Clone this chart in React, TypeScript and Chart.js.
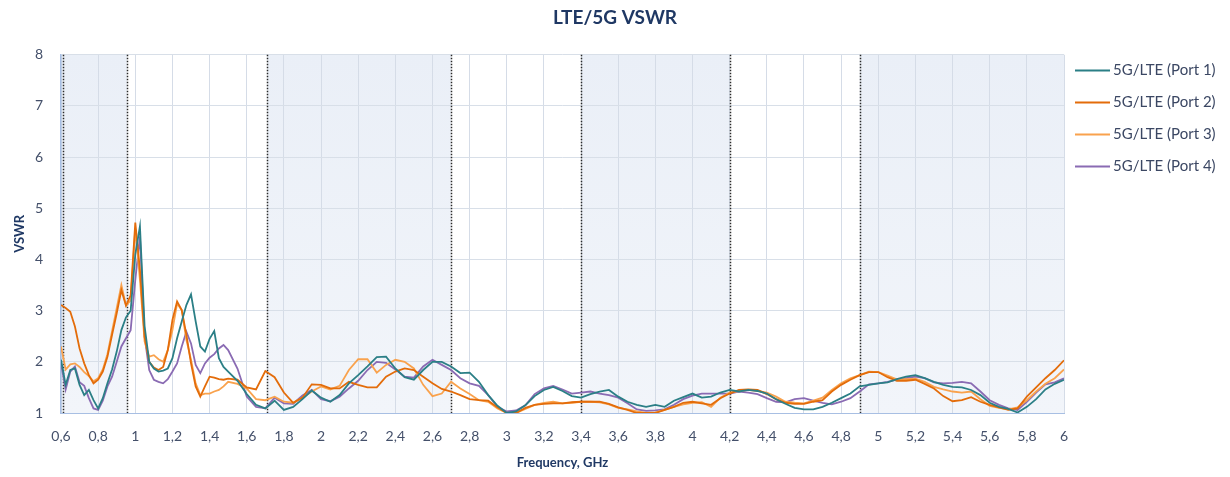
import React, { useEffect, useRef } from "react";
import { Chart, registerables } from "chart.js";

Chart.register(...registerables);

// Frequency points (GHz)
const freqGHz = [
  0.6, 0.625, 0.65, 0.675, 0.7, 0.725, 0.75, 0.775, 0.8, 0.825, 0.85, 0.875, 0.9, 0.925, 0.95, 0.975,
  1.0, 1.025, 1.05, 1.075, 1.1, 1.125, 1.15, 1.175, 1.2, 1.225, 1.25, 1.275, 1.3, 1.325, 1.35, 1.375,
  1.4, 1.425, 1.45, 1.475, 1.5,
  1.55, 1.6, 1.65, 1.7, 1.75, 1.8, 1.85, 1.9, 1.95, 2.0,
  2.05, 2.1, 2.15, 2.2, 2.25, 2.3, 2.35, 2.4, 2.45, 2.5, 2.55, 2.6, 2.65, 2.7, 2.75, 2.8, 2.85, 2.9, 2.95, 3.0,
  3.05, 3.1, 3.15, 3.2, 3.25, 3.3, 3.35, 3.4, 3.45, 3.5, 3.55, 3.6, 3.65, 3.7, 3.75, 3.8, 3.85, 3.9, 3.95, 4.0,
  4.05, 4.1, 4.15, 4.2, 4.25, 4.3, 4.35, 4.4, 4.45, 4.5, 4.55, 4.6, 4.65, 4.7, 4.75, 4.8, 4.85, 4.9, 4.95, 5.0,
  5.05, 5.1, 5.15, 5.2, 5.25, 5.3, 5.35, 5.4, 5.45, 5.5, 5.55, 5.6, 5.65, 5.7, 5.75, 5.8, 5.85, 5.9, 5.95, 6.0,
];

const port1 = [
  2.04, 1.55, 1.84, 1.87, 1.55, 1.35, 1.45, 1.25, 1.09, 1.29, 1.58, 1.85, 2.2, 2.62, 2.87, 3.0,
  4.1, 4.65, 2.7, 2.0, 1.87, 1.81, 1.83, 1.87, 2.07, 2.46, 2.79, 3.11, 3.32, 2.79, 2.3, 2.2,
  2.45, 2.6, 2.07, 1.9, 1.81,
  1.63, 1.37, 1.16, 1.09, 1.24, 1.06, 1.12, 1.27, 1.44, 1.3,
  1.22, 1.35, 1.58, 1.74, 1.91, 2.09, 2.1, 1.87, 1.7, 1.65, 1.84, 2.0, 2.0, 1.91, 1.78, 1.79, 1.61, 1.35, 1.14, 1.0,
  1.03, 1.15, 1.33, 1.45, 1.51, 1.43, 1.33, 1.3, 1.37, 1.42, 1.45, 1.32, 1.22, 1.16, 1.12, 1.16, 1.12, 1.24, 1.31, 1.38,
  1.3, 1.32, 1.4, 1.45, 1.42, 1.45, 1.43, 1.38, 1.27, 1.18, 1.1, 1.07, 1.07, 1.12, 1.2, 1.29, 1.38, 1.52, 1.55, 1.58,
  1.6, 1.66, 1.71, 1.74, 1.68, 1.61, 1.55, 1.51, 1.5, 1.45, 1.35, 1.2, 1.12, 1.08, 1.01, 1.12, 1.27, 1.46, 1.57, 1.65,
];

const port2 = [
  3.11, 3.05, 2.98, 2.69, 2.26, 1.97, 1.74, 1.58, 1.65, 1.81, 2.1, 2.53, 2.95, 3.4, 3.1, 3.3,
  4.72, 3.8, 2.49, 2.0, 1.89, 1.84, 1.9, 2.23, 2.82, 3.18, 3.01, 2.53, 1.97, 1.52, 1.32, 1.52,
  1.71, 1.69, 1.66, 1.65, 1.67,
  1.65, 1.5, 1.46, 1.82, 1.7, 1.4, 1.2, 1.3, 1.56, 1.55,
  1.48, 1.48, 1.61, 1.55, 1.5, 1.5, 1.71, 1.81, 1.87, 1.84, 1.71, 1.58, 1.47, 1.42, 1.35, 1.27, 1.25, 1.24, 1.11, 1.0,
  1.0, 1.1, 1.16, 1.18, 1.19, 1.19, 1.21, 1.22, 1.22, 1.22, 1.18, 1.11, 1.06, 1.0, 1.0, 1.0, 1.06, 1.12, 1.2, 1.22,
  1.19, 1.16, 1.29, 1.38, 1.45, 1.46, 1.45, 1.37, 1.27, 1.2, 1.18, 1.18, 1.22, 1.25, 1.42, 1.55, 1.65, 1.74, 1.8, 1.8,
  1.7, 1.63, 1.63, 1.65, 1.57, 1.48, 1.33, 1.23, 1.25, 1.31, 1.22, 1.16, 1.11, 1.06, 1.09, 1.32, 1.5, 1.68, 1.84, 2.03,
];

const port3 = [
  2.3, 1.85, 1.95, 1.97, 1.9, 1.8, 1.72, 1.62, 1.68, 1.85, 2.15, 2.6, 3.05, 3.5, 3.1, 3.2,
  4.6, 3.6, 2.4, 2.1, 2.13, 2.05, 2.0, 2.23, 2.62, 3.14, 3.01, 2.43, 2.04, 1.58, 1.35, 1.38,
  1.38, 1.42, 1.45, 1.52, 1.61,
  1.57, 1.48, 1.27, 1.25, 1.32, 1.22, 1.2, 1.3, 1.42, 1.52,
  1.46, 1.53, 1.84, 2.05, 2.05, 1.79, 1.94, 2.04, 2.0, 1.87, 1.55, 1.33, 1.38, 1.61, 1.48, 1.37, 1.25, 1.22, 1.09, 1.0,
  1.0, 1.08, 1.16, 1.2, 1.22, 1.19, 1.2, 1.22, 1.22, 1.21, 1.17, 1.1, 1.07, 1.03, 1.0, 1.01, 1.06, 1.12, 1.17, 1.2,
  1.21, 1.12, 1.3, 1.4, 1.43, 1.45, 1.43, 1.4, 1.32, 1.22, 1.2, 1.19, 1.24, 1.3, 1.45, 1.58, 1.68, 1.74, 1.81, 1.8,
  1.73, 1.66, 1.66, 1.67, 1.61, 1.51, 1.46, 1.42, 1.4, 1.42, 1.27, 1.14, 1.1, 1.07, 1.11, 1.25, 1.42, 1.57, 1.68, 1.85,
];

const port4 = [
  1.97, 1.46, 1.81, 1.91, 1.6, 1.53, 1.29, 1.09, 1.06, 1.24, 1.52, 1.71, 2.0, 2.3, 2.46, 2.62,
  3.6, 4.45, 2.49, 1.84, 1.65, 1.61, 1.58, 1.66, 1.81, 1.97, 2.3, 2.59, 2.36, 1.94, 1.78, 1.97,
  2.08, 2.15, 2.26, 2.33, 2.23,
  1.87, 1.32, 1.12, 1.09, 1.3, 1.19, 1.18, 1.34, 1.45, 1.27,
  1.23, 1.32, 1.48, 1.63, 1.84, 2.0, 1.98, 1.85, 1.71, 1.69, 1.91, 2.04, 1.94, 1.84, 1.68, 1.58, 1.53, 1.35, 1.12, 1.03,
  1.05, 1.15, 1.37, 1.48, 1.53, 1.46, 1.38, 1.4, 1.42, 1.38, 1.35, 1.3, 1.19, 1.07, 1.04, 1.05, 1.07, 1.16, 1.27, 1.34,
  1.38, 1.38, 1.38, 1.38, 1.42, 1.4, 1.37, 1.29, 1.22, 1.21, 1.27, 1.29, 1.24, 1.2, 1.17, 1.22, 1.29, 1.42, 1.56, 1.58,
  1.61, 1.65, 1.68, 1.71, 1.68, 1.6, 1.58, 1.59, 1.61, 1.58, 1.42, 1.25, 1.16, 1.09, 1.06, 1.22, 1.4, 1.56, 1.6, 1.68,
];

const seriesNames = ["5G/LTE (Port 1)", "5G/LTE (Port 2)", "5G/LTE (Port 3)", "5G/LTE (Port 4)"];
const seriesValues = [port1, port2, port3, port4];
const seriesColors = ["#2b7f86", "#e36c0a", "#f9a24d", "#8a6bb3"];

// Frequency bands (shaded) and band-edge marker lines (GHz)
const shadedStartGHz = [0.6, 1.71, 3.4, 4.9];
const shadedEndGHz = [0.955, 2.7, 4.2, 6.0];
const markerGHz = [0.61, 0.955, 1.71, 2.7, 3.4, 4.2, 4.9];

const xMin = 0.6;
const xMax = 6;
const xStep = 0.2;
const yMin = 1;
const yMax = 8;
const yStep = 1;

const FONT = "Lato, 'Open Sans', 'DejaVu Sans', sans-serif";
const NAVY = "#1f3864";
const TICK = "#44506a";

const fmt = (v: number) => String(Math.round(v * 10) / 10).replace(".", ",");

const bandsPlugin = {
  id: "bands",
  beforeDraw(chart: any) {
    const { ctx, chartArea, scales } = chart;
    const x = scales.x;
    ctx.save();
    ctx.fillStyle = "#ffffff";
    ctx.fillRect(chartArea.left, chartArea.top, chartArea.right - chartArea.left, chartArea.bottom - chartArea.top);
    for (let i = 0; i < shadedStartGHz.length; i++) {
      const a = x.getPixelForValue(shadedStartGHz[i]);
      const b = x.getPixelForValue(shadedEndGHz[i]);
      const g = ctx.createLinearGradient(0, chartArea.top, 0, chartArea.bottom);
      g.addColorStop(0, "#eaeff7");
      g.addColorStop(1, "#f2f5fa");
      ctx.fillStyle = g;
      ctx.fillRect(a, chartArea.top, b - a, chartArea.bottom - chartArea.top);
    }
    ctx.restore();
  },
  beforeDatasetsDraw(chart: any) {
    const { ctx, chartArea, scales } = chart;
    const x = scales.x;
    ctx.save();
    ctx.strokeStyle = "#2a2a2a";
    ctx.lineWidth = 1.5;
    ctx.setLineDash([1.5, 1.5]);
    for (const m of markerGHz) {
      const px = Math.round(x.getPixelForValue(m)) + 0.5;
      ctx.beginPath();
      ctx.moveTo(px, chartArea.top);
      ctx.lineTo(px, chartArea.bottom);
      ctx.stroke();
    }
    ctx.restore();
  },
};

const legendPlugin = {
  id: "sideLegend",
  afterDraw(chart: any) {
    const { ctx, chartArea } = chart;
    ctx.save();
    ctx.font = `15px ${FONT}`;
    ctx.textBaseline = "middle";
    ctx.textAlign = "left";
    chart.data.datasets.forEach((ds: any, i: number) => {
      const y = 70 + i * 32;
      const x0 = chartArea.right + 11;
      ctx.strokeStyle = ds.borderColor;
      ctx.lineWidth = 2;
      ctx.setLineDash([]);
      ctx.beginPath();
      ctx.moveTo(x0, y + 0.5);
      ctx.lineTo(x0 + 35, y + 0.5);
      ctx.stroke();
      ctx.fillStyle = "#3b4763";
      ctx.fillText(ds.label, x0 + 38, y);
    });
    ctx.restore();
  },
};

export default function App() {
  const ref = useRef<HTMLCanvasElement | null>(null);

  useEffect(() => {
    if (!ref.current) return;
    const datasets = seriesNames.map((name, i) => ({
      label: name,
      data: freqGHz.map((f, j) => ({ x: f, y: seriesValues[i][j] })),
      borderColor: seriesColors[i],
      backgroundColor: seriesColors[i],
      borderWidth: 1.8,
      pointRadius: 0,
      tension: 0,
      fill: false,
    }));
    const chart = new Chart(ref.current, {
      type: "line",
      data: { datasets },
      options: {
        animation: false,
        responsive: true,
        maintainAspectRatio: false,
        layout: { padding: { left: 0, right: 0, top: 0, bottom: 0 } },
        plugins: {
          legend: { display: false },
          tooltip: { enabled: false },
          title: {
            display: true,
            text: "LTE/5G VSWR",
            color: NAVY,
            font: { family: FONT, size: 19, weight: "bold" },
            padding: { top: 6, bottom: 26 },
          },
        },
        scales: {
          x: {
            type: "linear",
            min: xMin,
            max: xMax,
            ticks: {
              stepSize: xStep,
              autoSkip: false,
              maxRotation: 0,
              color: TICK,
              font: { family: FONT, size: 14 },
              padding: 15,
              callback: (v: any) => fmt(Number(v)),
            },
            grid: { color: "#d5dce7", drawTicks: false, lineWidth: 1 },
            border: { color: "#a8bfe3", width: 1 },
            title: {
              display: true,
              text: "Frequency, GHz",
              color: NAVY,
              font: { family: FONT, size: 13, weight: "bold" },
              padding: { top: 0, bottom: 6 },
            },
            afterFit: (s: any) => {
              s.height = 64;
            },
          },
          y: {
            min: yMin,
            max: yMax,
            ticks: {
              stepSize: yStep,
              color: TICK,
              font: { family: FONT, size: 14 },
              padding: 18,
            },
            grid: { color: "#d8dfe8", drawTicks: false, lineWidth: 1 },
            border: { color: "#a8bfe3", width: 1.5 },
            title: {
              display: true,
              text: "VSWR",
              color: NAVY,
              font: { family: FONT, size: 13, weight: "bold" },
              padding: { top: 12, bottom: 0 },
            },
            afterFit: (s: any) => {
              s.width = 61;
            },
          },
          // empty right-hand gutter that holds the legend
          legendGutter: {
            type: "linear",
            position: "right",
            min: yMin,
            max: yMax,
            grid: { display: false, drawOnChartArea: false, drawTicks: false },
            border: { display: false },
            ticks: { display: false },
            afterFit: (s: any) => {
              s.width = 166;
            },
          },
        },
      } as any,
      plugins: [bandsPlugin, legendPlugin],
    });
    return () => chart.destroy();
  }, []);

  return (
    <div style={{ position: "absolute", left: 0, top: 0, width: 1230, height: 477, background: "#ffffff" }}>
      <canvas ref={ref} />
    </div>
  );
}
